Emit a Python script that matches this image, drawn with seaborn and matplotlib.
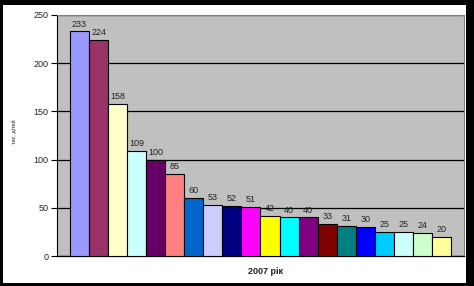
import matplotlib
matplotlib.use("Agg")
import matplotlib.pyplot as plt
import seaborn as sns
import pandas as pd
from matplotlib.patches import Rectangle

categories = [str(i) for i in range(1, 21)]
values = [233, 224, 158, 109, 100, 85, 60, 53, 52, 51, 42, 40, 40, 33, 31, 30, 25, 25, 24, 20]
colors = ["#9999FF", "#993366", "#FFFFCC", "#CCFFFF", "#660066", "#FF8080", "#0066CC",
          "#CCCCFF", "#000080", "#FF00FF", "#FFFF00", "#00FFFF", "#800080", "#800000",
          "#008080", "#0000FF", "#00CCFF", "#CCFFFF", "#CCFFCC", "#FFFF99"]
y_ticks = [0, 50, 100, 150, 200, 250]
x_label = "2007 рік"
y_label = "тис. дітей"

sns.set_style("white")
plt.rcParams['font.family'] = ['Liberation Sans', 'DejaVu Sans']

df = pd.DataFrame({"cat": categories, "val": values})

fig = plt.figure(figsize=(4.74, 2.86), dpi=100, facecolor="black")
fig.patches.append(Rectangle((3/474, 3/286), (466-3)/474, (282-4)/286,
                             transform=fig.transFigure, facecolor="white",
                             edgecolor="none", zorder=-5))
ax = fig.add_axes([57/474, 30/286, 407/474, 241/286], zorder=2)
ax.set_facecolor("#C0C0C0")

sns.barplot(data=df, x="cat", y="val", hue="cat", palette=colors, width=1.0,
            dodge=False, legend=False, edgecolor="black", linewidth=0.8, ax=ax,
            saturation=1, zorder=3)

for c in ax.containers:
    ax.bar_label(c, padding=2, fontsize=6.5, color="#222222")

n = len(values)
margin = 13/19.05
ax.set_xlim(-0.5 - margin, n - 0.5 + margin)
ax.set_ylim(0, 250)
ax.set_yticks(y_ticks)
ax.set_xticks([])
ax.yaxis.grid(True, color="black", linewidth=0.9, zorder=1)
ax.set_axisbelow(True)
ax.tick_params(axis="y", which="both", left=True, direction="out", length=4,
               width=0.8, color="black", labelsize=6.5, labelcolor="#222222", pad=2)
for s in ["top", "right"]:
    ax.spines[s].set_color("#808080")
    ax.spines[s].set_linewidth(0.8)
ax.spines["left"].set_color("black")
ax.spines["left"].set_linewidth(0.8)
ax.spines["bottom"].set_color("black")
ax.spines["bottom"].set_linewidth(0.9)
ax.set_xlabel("")
ax.set_ylabel("")

fig.text(265/474, 1 - 271/286, x_label, ha="center", va="center",
         fontsize=6.5, fontweight="bold", color="#222222")
fig.text(14/474, 1 - 132/286, y_label, ha="center", va="center",
         rotation=90, fontsize=4, color="#222222")

fig.savefig("out.png", dpi=100, facecolor=fig.get_facecolor())
